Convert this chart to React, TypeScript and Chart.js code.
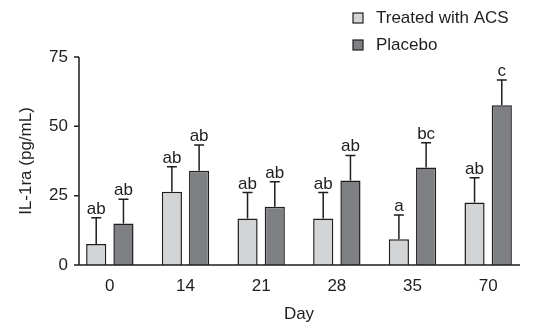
import React, { useEffect, useRef } from "react";
import { Chart, registerables } from "chart.js";

Chart.register(...registerables);

const days = ["0", "14", "21", "28", "35", "70"];
const acsValues = [7.6, 26.4, 16.8, 16.8, 9.3, 22.5];
const acsErrors = [9.4, 9.0, 9.3, 9.3, 8.7, 9.0];
const acsLetters = ["ab", "ab", "ab", "ab", "a", "ab"];
const placeboValues = [15.0, 34.0, 21.0, 30.5, 35.2, 57.6];
const placeboErrors = [8.7, 9.3, 9.0, 9.0, 8.9, 9.1];
const placeboLetters = ["ab", "ab", "ab", "ab", "bc", "c"];
const yTicks = [0, 25, 50, 75];

const FONT = "'Liberation Sans', Arial, Helvetica, sans-serif";
const FS = 17;
const INK = "#1e1e1e";
const LIGHT = "#d3d4d6";
const DARK = "#7f8083";

const errorPlugin = {
  id: "errorBars",
  afterDatasetsDraw(chart: any) {
    const ctx = chart.ctx;
    const y = chart.scales.y;
    const errs = [acsErrors, placeboErrors];
    const letters = [acsLetters, placeboLetters];
    ctx.save();
    chart.data.datasets.forEach((ds: any, di: number) => {
      const meta = chart.getDatasetMeta(di);
      meta.data.forEach((bar: any, i: number) => {
        const v = ds.data[i];
        const top = y.getPixelForValue(v);
        const cap = y.getPixelForValue(v + errs[di][i]);
        ctx.strokeStyle = INK;
        ctx.lineWidth = 1.5;
        ctx.beginPath();
        ctx.moveTo(bar.x, top);
        ctx.lineTo(bar.x, cap);
        ctx.moveTo(bar.x - 5, cap);
        ctx.lineTo(bar.x + 5, cap);
        ctx.stroke();
        ctx.fillStyle = INK;
        ctx.font = `${FS}px ${FONT}`;
        ctx.textAlign = "center";
        ctx.textBaseline = "alphabetic";
        ctx.fillText(letters[di][i], bar.x, cap - 4);
      });
    });
    ctx.restore();
  },
  afterDraw(chart: any) {
    const ctx = chart.ctx;
    const { left, right } = chart.chartArea;
    const y = chart.scales.y;
    const axisX = left + 7;
    const y0 = y.getPixelForValue(0);
    const yMax = y.getPixelForValue(75);
    ctx.save();
    ctx.strokeStyle = INK;
    ctx.lineWidth = 1.5;
    ctx.beginPath();
    ctx.moveTo(axisX, yMax);
    ctx.lineTo(axisX, y0);
    ctx.lineTo(right - 6, y0);
    yTicks.forEach((t) => {
      const p = y.getPixelForValue(t);
      ctx.moveTo(axisX - 5, p);
      ctx.lineTo(axisX, p);
    });
    ctx.stroke();

    // legend
    const items = [
      { label: chart.data.datasets[0].label, color: LIGHT },
      { label: chart.data.datasets[1].label, color: DARK },
    ];
    ctx.font = `${FS}px ${FONT}`;
    ctx.textAlign = "left";
    ctx.textBaseline = "middle";
    items.forEach((it, i) => {
      const cy = 18 + i * 27;
      ctx.fillStyle = it.color;
      ctx.fillRect(353, cy - 5, 10, 10);
      ctx.lineWidth = 1.2;
      ctx.strokeStyle = INK;
      ctx.strokeRect(353, cy - 5, 10, 10);
      ctx.fillStyle = INK;
      ctx.fillText(it.label, 376, cy);
    });
    ctx.restore();
  },
};

export default function App() {
  const ref = useRef<HTMLCanvasElement>(null);
  useEffect(() => {
    document.body.style.margin = "0";
    const chart = new Chart(ref.current as HTMLCanvasElement, {
      type: "bar",
      data: {
        labels: days,
        datasets: [
          {
            label: "Treated with ACS",
            data: acsValues,
            backgroundColor: LIGHT,
            borderColor: INK,
            borderWidth: 1.5,
            categoryPercentage: 0.72,
            barPercentage: 0.74,
          },
          {
            label: "Placebo",
            data: placeboValues,
            backgroundColor: DARK,
            borderColor: INK,
            borderWidth: 1.5,
            categoryPercentage: 0.72,
            barPercentage: 0.74,
          },
        ],
      },
      options: {
        responsive: false,
        animation: false,
        layout: { padding: { top: 57, right: 7, left: 0, bottom: 0 } },
        plugins: {
          legend: { display: false },
          tooltip: { enabled: false },
        },
        scales: {
          x: {
            offset: true,
            grid: { display: false, drawTicks: false },
            border: { display: false },
            ticks: { color: INK, font: { family: FONT, size: FS }, padding: 11 },
            title: {
              display: true,
              text: "Day",
              color: INK,
              font: { family: FONT, size: FS },
              padding: { top: 0, bottom: 3 },
            },
            afterFit: (s: any) => {
              s.height = 63;
            },
          },
          y: {
            min: 0,
            max: 75,
            afterBuildTicks: (s: any) => {
              s.ticks = yTicks.map((v) => ({ value: v }));
            },
            grid: { display: false, drawTicks: false },
            border: { display: false },
            ticks: { color: INK, font: { family: FONT, size: FS }, padding: 4 },
            title: {
              display: true,
              text: "IL-1ra (pg/mL)",
              color: INK,
              font: { family: FONT, size: FS },
              padding: { top: 16, bottom: 0 },
            },
            afterFit: (s: any) => {
              s.width = 72;
            },
          },
        },
      },
      plugins: [errorPlugin],
    });
    return () => chart.destroy();
  }, []);
  return <canvas ref={ref} width={533} height={328} style={{ display: "block" }} />;
}
